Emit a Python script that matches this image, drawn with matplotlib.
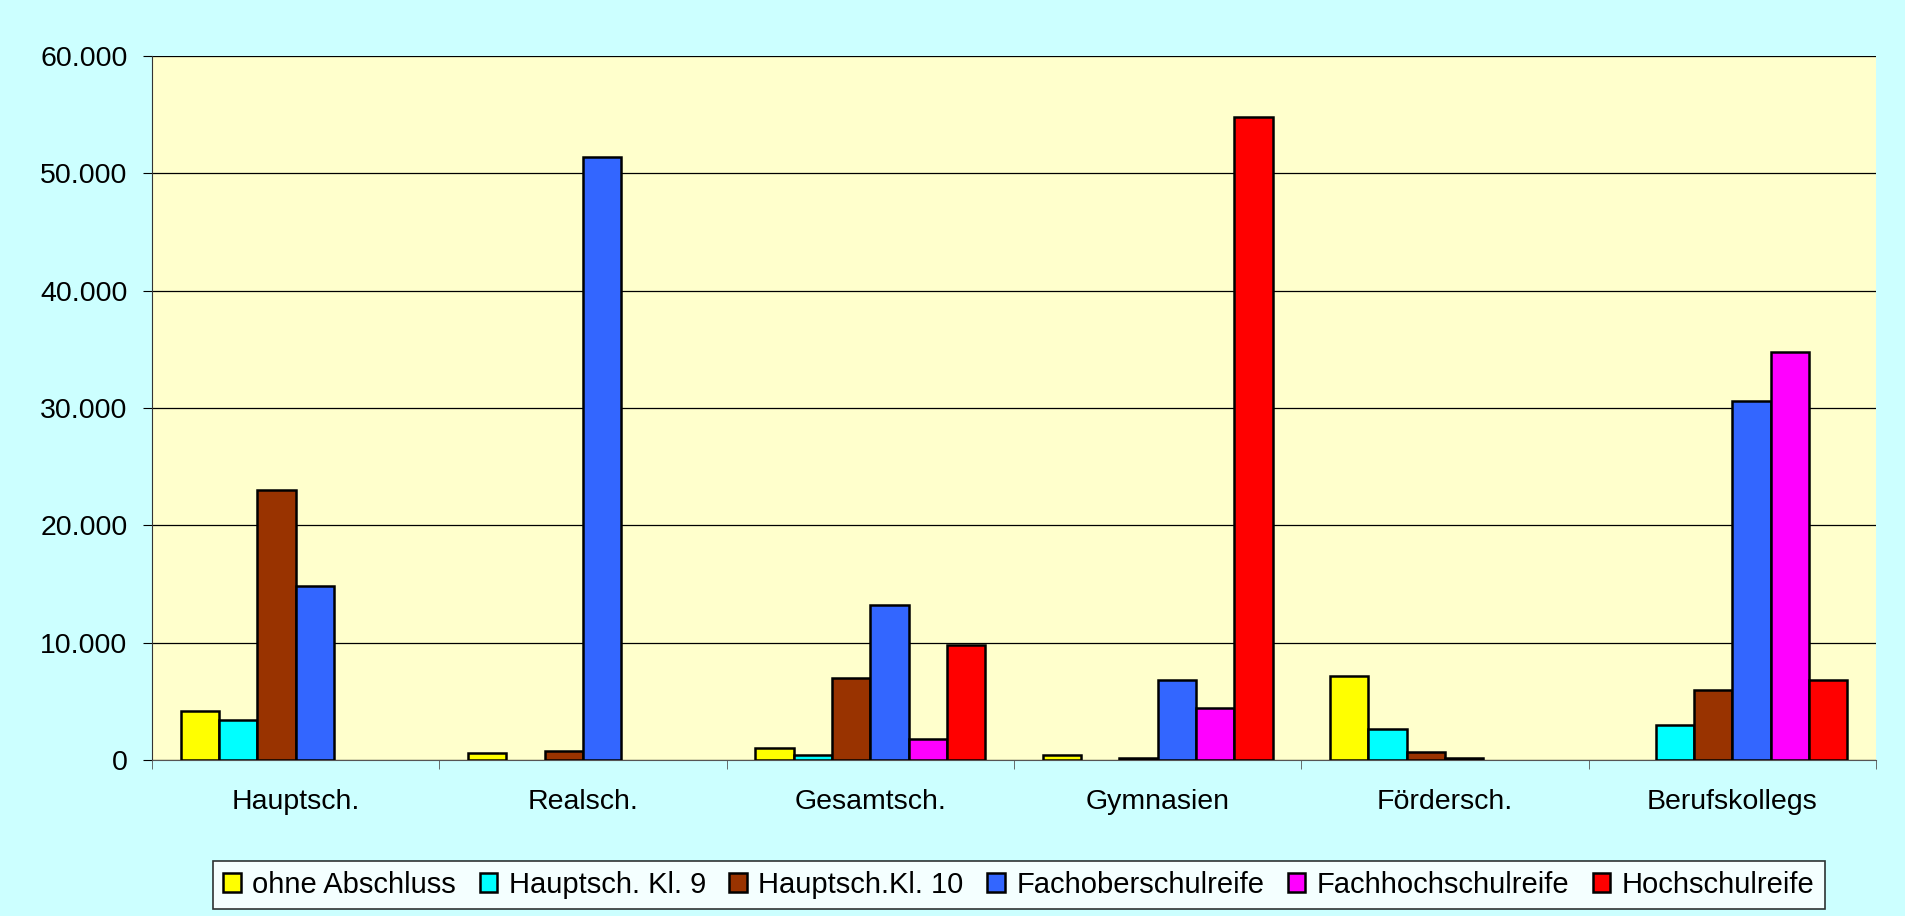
import matplotlib.pyplot as plt
import numpy as np
from matplotlib.ticker import FuncFormatter

plt.rcParams['font.family'] = ['Liberation Sans', 'DejaVu Sans']

schools = ['Hauptsch.', 'Realsch.', 'Gesamtsch.', 'Gymnasien', 'Fördersch.', 'Berufskollegs']
series = ['ohne Abschluss', 'Hauptsch. Kl. 9', 'Hauptsch.Kl. 10',
          'Fachoberschulreife', 'Fachhochschulreife', 'Hochschulreife']
ohne = [4200, 600, 1000, 450, 7200, 0]
hs9 = [3400, 0, 400, 0, 2600, 3000]
hs10 = [23000, 800, 7000, 200, 650, 6000]
fos = [14800, 51400, 13200, 6800, 200, 30600]
fhr = [0, 0, 1800, 4400, 0, 34800]
abi = [0, 0, 9800, 54800, 0, 6800]
colors = ['#FFFF00', '#00FFFF', '#993300', '#3366FF', '#FF00FF', '#FF0000']

data = [ohne, hs9, hs10, fos, fhr, abi]

fig = plt.figure(figsize=(19.06, 9.16), dpi=100, facecolor='#CCFFFF')
ax = fig.add_axes([0.0797, 0.1703, 0.9046, 0.7686])
ax.set_facecolor('#FFFFCC')

x = np.arange(len(schools))
w = 1 / 7.5
for i, (vals, c, name) in enumerate(zip(data, colors, series)):
    # zero values are not drawn at all in the original
    h = np.where(np.array(vals) > 0, vals, np.nan)
    ax.bar(x - 3 * w + (i + 0.5) * w, h, width=w, color=c,
           edgecolor='black', linewidth=1.8, label=name, zorder=3)

ax.set_xlim(-0.5, len(schools) - 0.5)
ax.set_ylim(0, 60000)
ax.set_yticks(range(0, 60001, 10000))
ax.yaxis.set_major_formatter(FuncFormatter(lambda v, p: f'{int(v):,}'.replace(',', '.')))
ax.grid(axis='y', color='black', linewidth=0.9, zorder=0)
ax.set_xticks(x)
ax.set_xticklabels(schools)
ax.set_xticks(np.arange(-0.5, len(schools), 1), minor=True)
ax.tick_params(axis='x', which='major', length=0, pad=21, labelsize=20.5)
ax.tick_params(axis='x', which='minor', length=6.5, direction='out', color='#555555')
ax.tick_params(axis='y', length=6.5, direction='out', labelsize=20.5, pad=11)
for s in ['top', 'right']:
    ax.spines[s].set_visible(False)
ax.spines['left'].set_color('#333333')
ax.spines['bottom'].set_color('#555555')

leg = fig.legend(loc='center', bbox_to_anchor=(0.5346, 0.0338), ncol=6, fontsize=21,
                 frameon=True, fancybox=False, edgecolor='black', handlelength=0.6,
                 handleheight=0.6, handletextpad=0.4, columnspacing=0.8,
                 borderpad=0.35, borderaxespad=0)
leg.get_frame().set_linewidth(1.2)
leg.get_frame().set_facecolor('white')

fig.savefig('out.png', dpi=100, facecolor=fig.get_facecolor())
